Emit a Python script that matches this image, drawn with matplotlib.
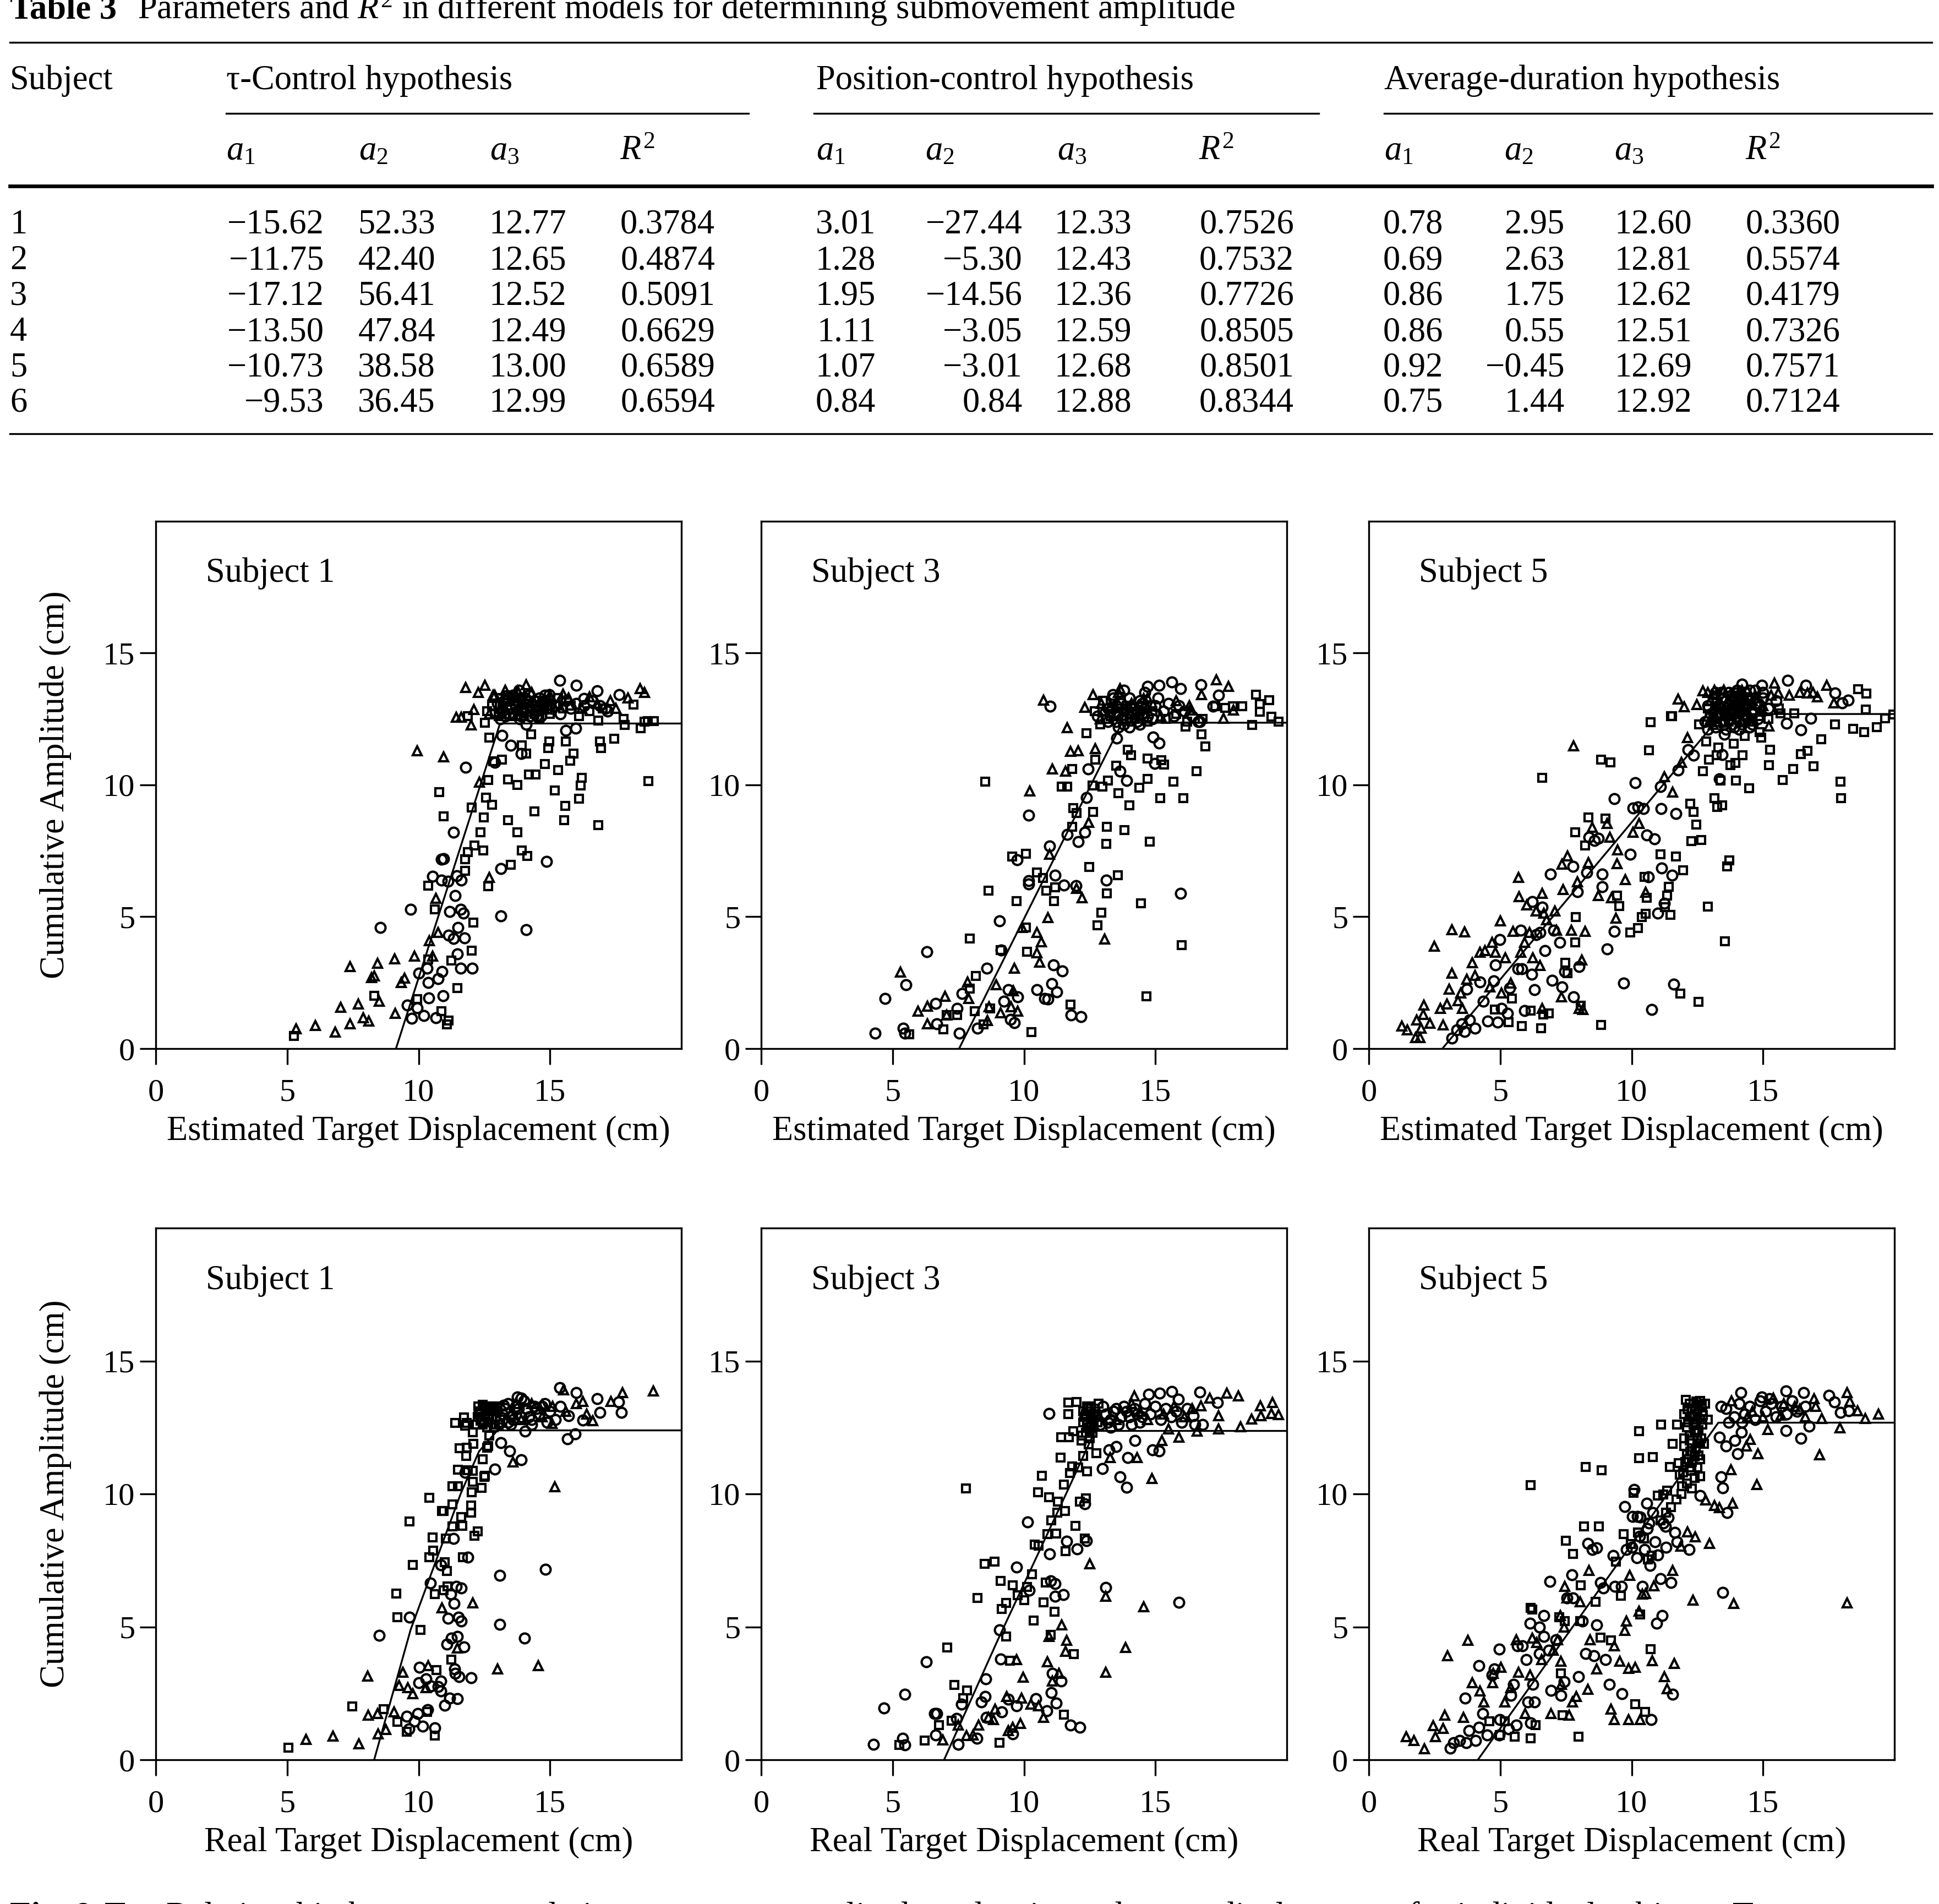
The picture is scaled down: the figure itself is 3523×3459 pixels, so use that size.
import matplotlib
matplotlib.use("Agg")
import matplotlib.pyplot as plt
from matplotlib.lines import Line2D

plt.rcParams['font.family'] = ['Liberation Serif', 'DejaVu Serif']
plt.rcParams['mathtext.fontset'] = 'custom'
plt.rcParams['mathtext.rm'] = 'Liberation Serif'
plt.rcParams['mathtext.it'] = 'Liberation Serif:italic'

# ---- Table 3 values ----
subjects = ['1', '2', '3', '4', '5', '6']
tau_a1 = [-15.62, -11.75, -17.12, -13.50, -10.73, -9.53]
tau_a2 = [52.33, 42.40, 56.41, 47.84, 38.58, 36.45]
tau_a3 = [12.77, 12.65, 12.52, 12.49, 13.00, 12.99]
tau_r2 = [0.3784, 0.4874, 0.5091, 0.6629, 0.6589, 0.6594]
pos_a1 = [3.01, 1.28, 1.95, 1.11, 1.07, 0.84]
pos_a2 = [-27.44, -5.30, -14.56, -3.05, -3.01, 0.84]
pos_a3 = [12.33, 12.43, 12.36, 12.59, 12.68, 12.88]
pos_r2 = [0.7526, 0.7532, 0.7726, 0.8505, 0.8501, 0.8344]
avg_a1 = [0.78, 0.69, 0.86, 0.86, 0.92, 0.75]
avg_a2 = [2.95, 2.63, 1.75, 0.55, -0.45, 1.44]
avg_a3 = [12.60, 12.81, 12.62, 12.51, 12.69, 12.92]
avg_r2 = [0.3360, 0.5574, 0.4179, 0.7326, 0.7571, 0.7124]
groups = ['τ-Control hypothesis', 'Position-control hypothesis', 'Average-duration hypothesis']
col_heads = ['$a_1$', '$a_2$', '$a_3$', '$R^2$'] * 3

# ---- Panel data: (x, y) ----
# Subject 1, estimated displacement
e1_tri = [(5.34, 0.75), (6.07, 0.88), (6.82, 0.63), (7.03, 1.57), (7.40, 3.12), (7.40, 0.93), (7.70, 1.70),
          (7.9, 1.17), (8.10, 1.05), (8.2, 2.7), (8.31, 2.75), (8.45, 3.24), (8.5, 1.8), (9.08, 3.4), (9.1, 1.34),
          (9.35, 2.5), (9.46, 2.67), (9.84, 3.5), (9.95, 11.3), (10.54, 3.5), (10.4, 4.1), (10.65, 5.7),
          (10.75, 4.4), (10.96, 11.07), (12.32, 10.1), (12.7, 6.5), (11.43, 12.57), (11.62, 12.57), (11.8, 13.7),
          (12.1, 12.85), (12.27, 13.5), (12.53, 13.77), (12.84, 13.4), (14.1, 13.8), (13.75, 13.57), (15.5, 13.44),
          (16.5, 13.35), (17.3, 13.2), (17.97, 13.3), (18.43, 13.65), (18.6, 13.5), (12.0, 12.27), (13.2, 13.1),
          (12.9, 13.4), (13.1, 12.9), (13.3, 13.6), (13.5, 13.2), (13.8, 13.5), (14.0, 12.8), (14.3, 13.5),
          (14.6, 13.0), (15.0, 13.4), (15.3, 13.1), (15.7, 13.3), (16.2, 12.9), (16.8, 13.1), (17.5, 12.9),
          (12.7, 12.7), (13.6, 12.7)]
e1_circ = [(8.55, 4.6), (9.69, 5.29), (9.58, 1.65), (9.74, 1.15), (9.95, 1.55), (10.0, 2.87), (10.19, 1.25),
           (10.33, 3.04), (10.37, 2.5), (10.38, 1.92), (10.54, 6.54), (10.65, 1.17), (10.75, 2.65), (10.86, 7.18),
           (10.96, 7.21), (10.86, 6.38), (10.9, 2.92), (10.93, 2.0), (11.13, 6.34), (11.15, 4.3), (11.19, 5.2),
           (11.34, 8.2), (11.34, 4.17), (11.4, 5.8), (11.45, 6.56), (11.48, 3.6), (11.5, 4.6), (11.6, 5.28),
           (11.62, 6.38), (11.7, 5.14), (11.6, 3.05), (11.75, 4.2), (11.8, 10.67), (12.04, 3.04), (12.9, 10.85),
           (13.14, 5.04), (13.14, 6.83), (13.18, 11.87), (13.5, 11.5), (13.9, 11.2), (14.1, 4.5), (14.87, 7.1),
           (14.1, 12.3), (15.37, 13.97), (16.0, 13.77), (15.98, 12.14), (16.8, 13.57), (15.6, 12.07),
           (14.97, 13.42), (13.83, 13.6), (17.64, 13.42), (13.37, 13.19), (14.6, 13.0), (16.3, 13.27), (17.1, 12.9),
           (13.0, 13.1), (13.2, 12.8), (13.4, 13.3), (13.5, 12.9), (13.6, 13.4), (13.7, 13.0), (13.8, 12.7),
           (13.9, 13.3), (14.0, 13.1), (14.1, 12.9), (14.2, 13.4), (14.3, 13.0), (14.4, 13.2), (14.5, 12.8),
           (14.6, 13.3), (14.7, 13.1), (14.8, 13.4), (14.9, 12.9), (15.0, 13.2), (15.2, 13.0), (15.4, 12.7),
           (15.6, 13.2), (15.8, 12.9), (16.0, 13.1), (16.3, 13.0), (16.6, 13.2), (16.9, 13.0), (17.2, 12.8),
           (13.3, 12.6), (13.9, 12.6), (14.5, 12.6), (13.1, 12.5), (13.25, 13.2), (13.45, 12.7), (13.65, 13.1),
           (13.85, 12.5), (14.05, 13.3), (14.25, 12.6), (14.45, 13.0), (14.65, 12.6), (14.85, 13.2), (15.05, 12.9),
           (13.55, 13.3), (14.15, 13.2), (14.75, 12.9), (13.95, 12.9)]
e1_sq = [(5.25, 0.47), (8.31, 2.0), (9.95, 1.87), (10.86, 1.42), (11.08, 0.92), (11.15, 1.07), (10.37, 3.39),
         (10.37, 6.18), (10.61, 5.29), (10.79, 9.72), (10.96, 8.81), (11.24, 3.34), (11.48, 2.3), (11.76, 7.18),
         (11.87, 7.46), (11.76, 6.74), (12.02, 9.15), (12.09, 4.79), (12.02, 3.72), (12.13, 7.71), (12.36, 8.21),
         (12.48, 8.76), (12.46, 7.51), (12.57, 9.52), (12.64, 10.18), (12.79, 9.25), (12.84, 10.9), (12.64, 6.16),
         (12.7, 11.8), (13.18, 10.97), (13.4, 10.2), (13.4, 8.66), (13.51, 6.98), (13.75, 10.0), (13.75, 8.2),
         (13.93, 7.51), (14.14, 7.31), (14.19, 10.4), (14.45, 10.4), (14.4, 9.0), (13.93, 11.5), (14.1, 11.2),
         (14.28, 11.93), (14.8, 10.8), (14.94, 11.4), (14.97, 11.65), (15.18, 9.8), (15.3, 10.57), (15.53, 8.66),
         (15.58, 9.2), (15.6, 11.64), (15.76, 10.92), (15.9, 11.2), (16.1, 9.48), (16.16, 9.97), (16.2, 10.27),
         (16.84, 8.48), (16.9, 11.64), (16.95, 11.4), (17.45, 11.75), (17.85, 12.27), (17.8, 12.5),
         (18.17, 13.05), (18.46, 12.15), (18.6, 12.4), (18.74, 10.15), (18.73, 12.42), (18.95, 12.42),
         (11.87, 12.62), (12.53, 12.35), (13.05, 12.6), (15.8, 13.0), (16.84, 12.44), (12.8, 13.0), (13.1, 13.3),
         (13.3, 12.7), (13.5, 13.0), (13.7, 13.3), (14.0, 12.6), (14.2, 13.1), (14.4, 12.7), (14.7, 13.2),
         (15.0, 12.7), (15.3, 13.3), (15.5, 12.9), (16.1, 12.6), (16.5, 12.8), (17.0, 12.9), (12.6, 12.8),
         (12.9, 12.7), (13.2, 13.0), (13.6, 12.6), (13.9, 13.1), (14.3, 12.9), (14.6, 12.5), (14.9, 13.0),
         (13.4, 13.4)]
e1_fit_x = [9.14, 13.1, 20.0]
e1_fit_y = [0.0, 12.33, 12.33]

# Subject 3, estimated displacement
e3_circ = [(4.34, 0.59), (4.71, 1.91), (5.5, 2.43), (5.41, 0.77), (5.47, 0.59), (6.3, 3.67), (6.63, 1.72),
           (6.68, 0.94), (7.46, 1.53), (7.53, 0.59), (7.65, 2.09), (8.22, 0.77), (8.59, 3.05), (9.07, 4.85),
           (9.13, 3.74), (9.24, 1.8), (9.4, 2.24), (9.49, 1.1), (9.63, 0.99), (9.76, 1.97), (9.74, 7.17),
           (10.18, 8.85), (10.18, 6.36), (10.18, 6.24), (10.49, 2.24), (10.79, 1.9), (10.91, 1.87), (10.97, 7.69),
           (11.0, 12.99), (11.06, 2.46), (11.13, 3.18), (11.18, 6.58), (11.25, 2.14), (11.46, 2.95), (11.51, 6.19),
           (11.65, 8.13), (11.79, 1.27), (11.97, 6.17), (12.06, 7.84), (12.16, 1.21), (12.31, 8.2), (12.38, 9.53),
           (12.43, 10.6), (13.13, 6.39), (13.53, 11.77), (13.65, 10.52), (13.9, 10.16), (14.91, 11.81),
           (15.15, 11.59), (14.97, 10.82), (15.96, 5.88), (15.62, 13.9), (15.15, 13.77), (14.71, 13.73),
           (16.74, 13.8), (17.2, 12.99), (17.4, 13.4), (15.96, 13.65), (16.62, 12.4), (13.38, 13.43),
           (13.2, 12.9), (13.4, 13.3), (13.6, 12.7), (13.7, 13.1), (13.9, 12.5), (14.0, 13.3), (14.2, 12.9),
           (14.3, 12.4), (14.4, 13.2), (14.5, 12.7), (14.6, 13.5), (14.8, 13.0), (14.9, 12.5), (15.1, 13.3),
           (15.3, 12.8), (15.5, 13.1), (15.7, 12.6), (15.9, 13.0), (16.1, 12.8), (16.4, 12.6), (16.7, 12.4),
           (12.8, 12.6), (13.5, 12.4), (14.1, 12.7), (13.8, 13.6), (13.3, 12.8), (13.5, 13.0), (13.7, 12.5),
           (13.9, 12.9), (14.1, 13.0), (14.3, 12.8), (14.5, 13.1), (14.7, 12.6), (13.6, 12.2), (14.0, 12.2),
           (14.4, 12.3), (13.2, 12.4), (13.8, 12.3), (14.6, 12.9), (15.0, 13.0)]
e3_tri = [(5.29, 2.9), (5.96, 1.43), (6.32, 1.6), (6.32, 0.94), (6.99, 1.99), (7.06, 1.28), (7.85, 2.53),
          (7.9, 1.9), (8.6, 1.06), (8.67, 1.58), (8.94, 2.42), (9.12, 1.35), (9.51, 1.58), (9.6, 2.19),
          (9.75, 1.43), (9.63, 3.05), (9.93, 4.6), (10.22, 9.78), (10.49, 4.4), (10.49, 3.64), (10.6, 3.27),
          (10.66, 4.05), (10.74, 13.21), (10.91, 4.96), (10.97, 7.36), (11.07, 10.6), (11.59, 10.52),
          (11.65, 12.18), (11.76, 11.27), (11.99, 6.07), (12.06, 11.3), (12.21, 5.73), (12.47, 8.57),
          (12.31, 12.95), (12.62, 13.43), (12.72, 11.37), (13.06, 4.15), (13.65, 13.65), (14.56, 13.28),
          (16.76, 13.43), (17.32, 13.99), (17.79, 13.73), (17.6, 12.52), (17.96, 12.84), (16.32, 12.84),
          (12.94, 13.1), (12.9, 12.5), (13.3, 13.0), (13.6, 13.5), (14.1, 13.1), (14.7, 13.3), (15.2, 12.6),
          (15.8, 13.2), (16.3, 13.0), (13.0, 12.8), (14.4, 12.6)]
e3_sq = [(5.63, 0.54), (6.94, 0.74), (7.06, 1.28), (7.46, 1.28), (7.94, 4.18), (7.94, 2.27), (8.16, 2.75),
         (8.13, 1.43), (8.46, 0.91), (8.53, 10.12), (8.65, 5.99), (8.71, 1.53), (9.12, 3.74), (9.56, 7.29),
         (9.71, 5.6), (10.07, 7.39), (10.07, 4.6), (10.12, 3.67), (10.29, 0.62), (10.49, 6.69), (10.72, 6.48),
         (10.84, 5.99), (11.15, 5.6), (11.18, 6.11), (11.44, 9.94), (11.65, 9.94), (11.76, 1.68), (11.84, 10.6),
         (11.88, 9.13), (11.84, 8.42), (11.99, 8.93), (12.38, 11.96), (12.6, 9.97), (12.62, 8.98),
         (12.72, 10.96), (12.99, 9.94), (13.16, 8.42), (13.13, 7.76), (13.16, 5.88), (12.94, 5.15),
         (12.79, 4.67), (12.49, 6.88), (13.19, 10.16), (13.5, 10.74), (13.6, 9.68), (13.82, 8.28), (13.57, 6.58),
         (13.94, 11.34), (14.0, 9.23), (14.07, 11.12), (14.38, 9.9), (14.46, 5.52), (14.71, 10.22), (14.71, 11.0),
         (14.78, 7.84), (14.66, 1.99), (15.18, 9.5), (15.22, 10.93), (15.32, 10.78), (15.69, 10.12),
         (15.99, 3.93), (16.07, 9.5), (16.15, 12.22), (16.57, 10.52), (16.76, 11.93), (16.91, 11.47),
         (17.94, 12.99), (18.31, 12.99), (18.68, 12.28), (18.82, 13.43), (18.97, 13.06), (18.97, 12.77),
         (19.34, 13.21), (19.41, 12.58), (19.68, 12.4), (17.65, 12.92), (17.28, 12.99), (12.7, 12.8),
         (13.0, 13.2), (13.3, 12.6), (13.6, 12.9), (13.9, 13.0), (14.2, 12.5), (14.5, 13.0), (14.9, 12.8),
         (15.4, 12.5), (15.8, 12.7), (16.2, 12.4), (16.8, 12.5), (12.9, 12.3), (13.1, 12.5), (13.5, 12.6),
         (13.8, 12.8), (14.1, 12.4), (14.4, 12.8), (14.7, 12.4), (13.4, 13.1), (14.0, 12.7)]
e3_fit_x = [7.53, 13.73, 20.0]
e3_fit_y = [0.0, 12.36, 12.36]

# Subject 5, estimated displacement
e5_tri = [(1.25, 0.86), (1.46, 0.71), (1.77, 0.41), (1.95, 0.41), (1.83, 1.08), (2.07, 1.3), (2.1, 1.64),
          (1.99, 0.78), (2.32, 0.96), (2.5, 3.88), (2.73, 1.52), (2.83, 0.89), (2.98, 1.7), (3.05, 2.26),
          (3.16, 2.85), (3.17, 4.51), (3.39, 1.82), (3.5, 2.11), (3.57, 1.52), (3.64, 4.43), (3.72, 2.63),
          (3.94, 3.26), (4.04, 2.78), (4.23, 3.66), (4.42, 3.71), (4.6, 2.33), (4.7, 4.03), (4.82, 3.66),
          (5.0, 4.84), (5.04, 2.11), (5.19, 3.44), (5.41, 2.48), (5.49, 4.45), (5.69, 6.5), (5.71, 5.76),
          (5.78, 3.66), (5.93, 4.03), (6.0, 5.44), (6.11, 4.4), (6.25, 3.44), (6.37, 5.21), (6.52, 3.15),
          (6.6, 5.88), (6.6, 1.52), (6.67, 5.14), (6.77, 4.89), (7.08, 5.21), (7.14, 4.48), (7.32, 1.96),
          (7.36, 6.99), (7.4, 6.03), (7.55, 7.31), (7.7, 4.48), (7.79, 11.49), (7.94, 6.32), (8.01, 1.52),
          (8.1, 3.37), (8.14, 1.48), (8.22, 4.45), (8.36, 7.06), (8.51, 8.39), (8.73, 5.8), (9.06, 8.54),
          (9.17, 8.02), (9.23, 5.73), (9.4, 4.95), (9.44, 7.02), (9.47, 7.53), (9.76, 6.4), (10.06, 8.2),
          (10.28, 8.54), (10.53, 5.92), (11.24, 10.31), (11.56, 9.72), (11.76, 13.26), (11.9, 10.86),
          (12.01, 12.97), (12.12, 11.79), (12.48, 13.04), (12.71, 13.56), (13.16, 13.6), (14.19, 12.82),
          (15.44, 13.86), (15.22, 12.23), (17.06, 13.34), (17.43, 13.78), (17.7, 13.12), (15.59, 13.49),
          (14.31, 13.37), (16.7, 13.49), (13.0, 13.2), (13.3, 12.7), (13.5, 13.6), (13.8, 12.8), (14.0, 13.3),
          (14.2, 13.6), (14.4, 12.8), (14.7, 13.4), (15.0, 13.0), (15.3, 13.4), (12.9, 12.6), (13.1, 12.3),
          (13.6, 13.0), (14.1, 12.9), (14.6, 13.2), (16.0, 13.4), (16.4, 13.5), (16.9, 13.5), (12.9, 13.5),
          (13.1, 12.9), (13.3, 12.4), (13.5, 13.6), (13.7, 12.7), (13.9, 13.3), (14.1, 12.9), (14.3, 13.2),
          (14.5, 12.6), (14.7, 13.3), (14.9, 12.8), (13.4, 13.1), (14.0, 12.5), (14.4, 13.6), (13.0, 12.5)]
e5_circ = [(3.16, 0.4), (3.35, 0.71), (3.54, 0.93), (3.64, 0.64), (3.72, 2.26), (3.83, 1.08), (4.04, 0.78),
           (4.23, 2.53), (4.35, 1.79), (4.53, 1.05), (4.75, 2.56), (4.82, 3.18), (4.9, 1.0), (4.99, 4.14),
           (5.04, 1.52), (5.27, 1.34), (5.37, 2.29), (5.68, 3.03), (5.78, 4.48), (5.83, 3.03), (5.93, 1.45),
           (6.2, 2.81), (6.22, 5.58), (6.3, 2.23), (6.37, 4.33), (6.52, 4.4), (6.6, 5.36), (6.71, 3.71),
           (6.92, 6.62), (6.97, 2.58), (7.04, 4.48), (7.26, 4.03), (7.36, 2.33), (7.45, 2.92), (7.77, 6.91),
           (7.8, 1.96), (7.94, 5.95), (8.01, 3.12), (8.29, 6.69), (8.38, 8.02), (8.58, 7.9), (8.73, 7.98),
           (8.88, 6.13), (8.88, 6.62), (9.06, 3.77), (9.33, 4.45), (9.35, 9.47), (9.69, 2.48), (9.94, 7.36),
           (10.13, 10.09), (10.06, 9.13), (10.25, 9.17), (10.44, 9.1), (10.58, 8.09), (10.63, 6.51),
           (10.77, 1.49), (10.87, 7.95), (11.0, 5.14), (11.09, 9.94), (11.12, 9.1), (11.14, 6.84), (11.24, 5.51),
           (11.53, 6.57), (11.61, 2.44), (11.68, 8.91), (11.78, 10.57), (12.15, 11.34), (12.35, 11.12),
           (14.19, 13.83), (13.97, 13.49), (13.82, 12.3), (14.49, 13.19), (14.96, 13.78), (15.93, 13.96),
           (15.89, 12.33), (16.43, 12.08), (16.62, 13.78), (16.81, 12.53), (17.73, 13.49), (18.02, 13.12),
           (18.25, 13.22), (13.53, 11.93), (13.35, 10.24), (13.45, 11.15), (13.2, 12.9), (13.4, 13.3),
           (13.6, 12.7), (13.7, 13.5), (13.9, 13.0), (14.0, 12.6), (14.1, 13.4), (14.3, 12.9), (14.4, 13.3),
           (14.6, 12.7), (14.8, 13.1), (15.0, 13.5), (15.2, 12.9), (15.5, 13.2), (13.5, 12.4), (14.2, 12.3),
           (13.8, 13.2), (14.5, 13.6), (12.8, 12.4), (12.9, 13.0), (13.0, 12.7), (13.1, 13.3), (13.2, 12.2),
           (13.3, 12.6), (13.3, 13.0), (13.4, 13.5), (13.5, 12.3), (13.5, 12.8), (13.6, 13.2), (13.7, 12.5),
           (13.7, 13.0), (13.8, 13.4), (13.9, 12.2), (13.9, 12.7), (14.0, 13.1), (14.0, 13.6), (14.1, 12.4),
           (14.2, 12.8), (14.2, 13.2), (14.3, 13.5), (14.4, 12.5), (14.4, 13.0), (14.5, 12.2), (14.5, 13.3),
           (14.6, 12.8), (14.7, 13.1), (14.7, 13.6), (14.8, 12.5), (14.9, 13.0), (15.0, 13.3), (13.2, 13.5),
           (13.6, 12.1), (14.1, 12.1), (14.6, 12.3), (12.9, 12.1), (13.4, 12.9), (13.8, 12.9), (14.3, 12.7)]
e5_sq = [(6.59, 10.28), (8.83, 10.97), (9.2, 10.86), (10.72, 12.38), (10.65, 11.31), (11.5, 12.6), (7.85, 8.2),
         (8.36, 8.76), (9.01, 8.73), (8.22, 7.7), (7.88, 4.99), (7.48, 3.25), (7.55, 2.85), (8.07, 1.62),
         (8.83, 0.89), (6.55, 0.78), (6.64, 1.3), (6.85, 1.33), (5.83, 0.86), (5.31, 1.0), (5.44, 1.89),
         (4.79, 1.48), (6.15, 1.45), (7.85, 4.03), (9.53, 5.41), (9.44, 5.8), (9.94, 4.4), (10.25, 4.58),
         (10.38, 4.99), (10.58, 5.73), (10.5, 6.51), (10.53, 5.11), (11.09, 7.36), (11.27, 5.36), (11.36, 5.8),
         (11.47, 5.07), (11.42, 6.13), (11.68, 7.28), (11.95, 6.77), (11.86, 2.08), (12.27, 7.87), (12.54, 1.77),
         (12.64, 7.92), (12.35, 8.98), (12.47, 8.49), (12.24, 9.28), (12.91, 5.39), (13.55, 4.08), (13.63, 6.91),
         (13.72, 7.13), (13.26, 9.17), (13.45, 9.23), (13.97, 10.16), (14.48, 9.87), (13.94, 10.83),
         (14.22, 11.12), (14.31, 11.86), (15.22, 10.75), (15.27, 11.34), (14.93, 11.79), (14.86, 12.01),
         (15.74, 10.19), (16.15, 10.6), (16.45, 11.17), (16.7, 11.3), (16.92, 10.72), (17.21, 11.74),
         (17.73, 12.3), (17.94, 10.12), (17.96, 9.5), (18.42, 12.13), (18.84, 12.01), (18.91, 12.87),
         (18.61, 13.63), (18.94, 13.46), (19.32, 12.2), (19.65, 12.53), (19.95, 12.67), (15.66, 12.72),
         (16.18, 12.72), (11.53, 12.6), (12.57, 12.3), (12.83, 11.64), (12.94, 10.97), (13.23, 11.12),
         (13.3, 11.42), (13.75, 10.75), (12.71, 10.53), (13.38, 10.16), (13.16, 9.5), (13.88, 11.57),
         (12.9, 12.9), (13.1, 12.5), (13.4, 12.9), (13.7, 12.4), (14.0, 12.9), (14.3, 12.6), (14.6, 12.4),
         (14.9, 12.6), (15.2, 12.5), (15.6, 12.9), (13.2, 13.4), (13.9, 13.5)]
e5_fit_x = [2.8, 13.45, 20.0]
e5_fit_y = [0.0, 12.69, 12.69]

# Subject 1, real displacement
r1_sq = [(5.04, 0.46), (7.47, 2.0), (8.68, 1.91), (9.19, 1.42), (9.56, 1.06), (9.16, 6.26), (9.19, 5.36),
         (9.66, 8.96), (9.79, 7.33), (10.07, 4.88), (10.4, 9.86), (10.41, 7.61), (10.53, 8.36), (10.56, 7.86),
         (10.62, 6.23), (10.68, 3.38), (10.32, 1.81), (10.62, 0.91), (10.88, 9.35), (10.96, 9.35), (11.03, 8.33),
         (10.99, 7.43), (11.07, 7.1), (11.1, 6.52), (10.96, 6.38), (11.25, 3.77), (11.28, 9.61), (11.29, 10.29),
         (11.29, 8.77), (11.5, 10.29), (11.5, 10.91), (11.57, 11.71), (11.62, 9.13), (11.66, 8.8), (11.69, 7.61),
         (11.76, 12.57), (11.72, 12.87), (11.99, 9.57), (11.99, 9.3), (12.03, 10.07), (12.06, 10.46),
         (12.09, 11.88), (12.13, 8.43), (12.25, 8.59), (12.4, 10.22), (12.5, 10.65), (12.43, 11.3),
         (12.53, 10.68), (12.6, 11.74), (12.65, 11.81), (12.69, 12.2), (12.28, 13.29), (12.35, 12.75),
         (11.84, 11.74), (11.81, 11.42), (11.4, 12.68), (11.84, 12.68), (12.06, 12.32), (11.87, 10.9),
         (12.06, 10.87), (12.3, 13.0), (12.5, 12.7), (12.6, 13.2), (12.7, 12.9), (12.8, 13.3), (12.9, 12.6),
         (13.0, 13.1), (13.1, 12.8), (12.4, 12.9), (12.6, 12.5), (12.8, 12.9), (13.0, 13.3), (12.2, 12.6),
         (12.5, 13.3), (12.35, 13.1), (12.45, 12.6), (12.55, 13.0), (12.65, 12.7), (12.75, 13.1), (12.85, 12.5),
         (12.95, 12.9), (12.45, 13.35), (12.65, 13.3), (12.85, 13.2), (13.05, 12.6), (12.25, 12.9)]
r1_circ = [(8.5, 4.68), (9.66, 5.36), (9.56, 1.64), (9.63, 1.16), (9.85, 1.45), (9.97, 1.74), (10.0, 2.9),
           (10.03, 3.48), (10.15, 1.26), (10.29, 3.04), (10.34, 1.88), (10.44, 6.64), (10.47, 2.78), (10.62, 1.2),
           (10.74, 2.75), (10.85, 2.97), (10.85, 2.58), (10.85, 7.32), (10.99, 2.06), (11.13, 5.33), (11.18, 2.32),
           (11.07, 4.35), (11.22, 6.23), (11.25, 4.57), (11.32, 8.33), (11.35, 5.87), (11.37, 3.41), (11.4, 3.26),
           (11.44, 6.52), (11.47, 4.64), (11.47, 2.29), (11.51, 5.36), (11.54, 3.12), (11.62, 5.22),
           (11.62, 6.45), (11.72, 4.25), (11.76, 10.8), (11.88, 7.61), (11.99, 3.09), (12.91, 10.94),
           (13.09, 6.93), (13.09, 5.1), (13.13, 11.93), (13.46, 11.62), (13.91, 11.28), (14.04, 4.57),
           (14.82, 7.17), (15.66, 12.07), (15.96, 12.25), (15.37, 13.99), (16.0, 13.81), (15.71, 12.94),
           (16.25, 12.78), (16.79, 13.59), (16.91, 13.07), (17.62, 13.45), (17.72, 13.07), (13.76, 13.65),
           (14.06, 12.35), (13.24, 13.33), (13.2, 13.0), (13.4, 13.4), (13.6, 12.8), (13.8, 13.2), (14.0, 13.5),
           (14.2, 12.9), (14.4, 13.3), (14.6, 13.0), (14.8, 13.4), (15.0, 13.1), (15.2, 12.8), (13.5, 12.6),
           (14.3, 12.6), (13.9, 13.6), (14.9, 12.7), (15.4, 13.3), (13.3, 13.2), (13.5, 12.9), (13.7, 13.3),
           (13.9, 12.9), (14.1, 13.2), (14.3, 12.8), (14.5, 13.2), (14.7, 13.3), (13.4, 12.7)]
r1_tri = [(5.71, 0.77), (6.74, 0.9), (7.72, 0.61), (8.06, 3.14), (8.09, 1.67), (8.43, 1.74), (8.46, 0.97),
          (8.75, 1.13), (9.07, 1.81), (9.26, 2.8), (9.41, 3.29), (9.6, 2.71), (9.79, 2.49), (10.29, 2.71),
          (10.37, 3.55), (10.88, 5.72), (11.47, 4.2), (12.06, 5.9), (13.0, 3.41), (13.6, 11.2), (14.56, 3.55),
          (15.19, 10.26), (15.51, 13.91), (16.62, 12.75), (17.31, 13.48), (17.76, 13.8), (18.94, 13.88),
          (16.25, 13.48), (15.07, 12.64), (14.71, 13.36), (13.1, 12.7), (13.5, 13.0), (13.9, 12.8), (14.3, 13.4),
          (14.7, 12.9), (15.1, 13.3), (15.6, 13.1), (16.0, 13.4), (16.4, 13.0), (13.7, 13.4)]
r1_fit_x = [8.31, 9.7, 11.6, 12.3, 13.0, 20.0]
r1_fit_y = [0.0, 4.9, 10.0, 11.6, 12.39, 12.39]

# Subject 3, real displacement
r3_sq = [(5.26, 0.55), (6.22, 0.72), (6.76, 1.3), (7.07, 4.23), (7.25, 1.48), (7.35, 2.82), (7.69, 2.32),
         (7.84, 2.6), (7.79, 10.2), (8.24, 6.08), (8.51, 7.38), (8.87, 7.45), (9.06, 0.65), (9.1, 6.73),
         (9.16, 5.67), (9.31, 5.9), (9.31, 4.63), (9.46, 3.72), (9.57, 6.56), (9.75, 6.19), (10.0, 6.01),
         (10.12, 6.51), (10.31, 6.98), (10.37, 5.24), (10.41, 8.1), (10.53, 10.06), (10.56, 8.06),
         (10.68, 10.68), (10.75, 5.93), (10.82, 6.66), (10.88, 8.49), (10.96, 9.87), (11.01, 4.7), (11.03, 9.0),
         (11.16, 5.57), (11.22, 8.51), (11.26, 9.29), (11.29, 9.7), (11.4, 11.36), (11.41, 12.13), (11.51, 10.35),
         (11.51, 1.69), (11.56, 9.36), (11.59, 7.84), (11.69, 13.43), (11.69, 13.0), (11.71, 12.13),
         (11.74, 10.78), (11.84, 11.03), (11.88, 12.37), (11.9, 3.98), (11.96, 8.8), (11.99, 13.46),
         (12.06, 11.0), (12.13, 9.7), (12.18, 12.01), (12.25, 11.43), (12.32, 8.32), (12.35, 9.84),
         (12.4, 10.85), (12.47, 11.87), (12.76, 11.53), (12.84, 13.39), (12.4, 12.69), (12.3, 12.9),
         (12.4, 12.6), (12.5, 13.1), (12.6, 12.8), (12.7, 13.2), (12.5, 12.4), (12.8, 12.7), (12.4, 13.3),
         (12.6, 12.3), (12.2, 12.2), (12.25, 12.7), (12.35, 13.0), (12.45, 12.5), (12.55, 12.9), (12.65, 12.6),
         (12.35, 12.3), (12.55, 13.3), (12.75, 12.9), (12.45, 13.2), (12.25, 13.1), (12.65, 13.0), (12.5, 12.1)]
r3_circ = [(4.28, 0.58), (4.68, 1.95), (5.38, 0.8), (5.46, 0.55), (5.47, 2.46), (6.29, 3.69), (6.59, 1.74),
           (6.69, 1.74), (6.63, 0.94), (7.43, 1.55), (7.5, 0.58), (7.62, 2.1), (8.21, 0.8), (8.38, 2.17),
           (8.53, 2.39), (8.54, 3.04), (8.57, 1.59), (9.06, 4.89), (9.12, 3.79), (9.16, 1.81), (9.41, 2.27),
           (9.57, 0.97), (9.72, 2.03), (9.71, 7.24), (10.13, 8.94), (10.19, 6.37), (10.44, 2.29), (10.87, 1.85),
           (10.97, 7.74), (11.01, 6.73), (11.03, 2.53), (11.07, 3.26), (11.18, 6.63), (11.22, 2.14),
           (11.19, 6.15), (11.41, 2.97), (11.49, 6.22), (11.62, 8.21), (11.78, 1.3), (12.03, 7.92), (12.13, 1.23),
           (12.32, 9.62), (12.37, 8.25), (10.96, 13.02), (12.99, 10.96), (13.1, 6.47), (13.24, 11.65),
           (13.5, 11.79), (13.65, 10.64), (13.94, 11.36), (13.9, 10.25), (14.21, 12.01), (14.9, 11.65),
           (15.15, 11.62), (15.9, 5.93), (15.63, 13.85), (16.7, 13.82), (17.37, 13.43), (15.88, 13.57),
           (16.44, 12.95), (15.16, 13.79), (14.75, 13.75), (12.7, 12.9), (13.0, 13.3), (13.2, 12.7), (13.4, 13.1),
           (13.6, 12.6), (13.8, 13.3), (14.0, 12.9), (14.2, 13.2), (14.4, 12.7), (14.6, 13.4), (14.8, 13.0),
           (15.0, 13.3), (15.2, 12.8), (15.4, 13.2), (15.6, 12.9), (15.8, 13.1), (16.0, 12.7), (16.2, 13.2),
           (16.5, 12.6), (16.8, 12.6), (12.5, 12.5), (13.3, 12.5), (12.9, 12.6), (13.1, 13.0), (13.3, 12.8),
           (13.5, 13.2), (13.7, 12.9), (13.9, 13.1), (14.1, 12.6), (14.3, 13.0), (14.5, 12.9)]
r3_tri = [(6.91, 0.75), (7.5, 1.3), (7.81, 0.91), (8.06, 0.94), (8.28, 1.3), (8.65, 1.59), (8.84, 1.52),
          (8.9, 1.91), (9.34, 2.39), (9.41, 1.09), (9.57, 1.23), (9.72, 3.76), (9.87, 1.37), (9.9, 2.32),
          (9.97, 3.11), (10.26, 2.1), (10.56, 2.03), (10.74, 1.59), (10.88, 3.69), (10.96, 4.63), (11.07, 2.97),
          (11.32, 3.26), (11.44, 5.07), (11.59, 4.08), (11.63, 4.49), (12.51, 7.38), (13.1, 6.15), (13.1, 3.3),
          (13.28, 11.36), (13.87, 4.23), (14.31, 11.36), (14.56, 5.76), (14.87, 10.59), (15.24, 12.01),
          (15.9, 12.13), (14.19, 13.68), (15.49, 12.45), (16.74, 13.31), (17.07, 13.6), (17.4, 12.45),
          (17.72, 13.79), (18.16, 13.68), (18.24, 12.52), (18.65, 12.81), (18.99, 13.31), (19.01, 12.95),
          (19.46, 13.43), (19.41, 13.02), (19.68, 12.98), (17.4, 12.95), (16.59, 12.37), (13.5, 12.8),
          (14.1, 13.4), (14.7, 12.8), (15.3, 13.0), (15.7, 13.3), (16.1, 12.9), (16.4, 13.2), (14.4, 13.1)]
r3_fit_x = [6.96, 9.0, 11.6, 12.7, 20.0]
r3_fit_y = [0.0, 4.5, 10.0, 12.37, 12.37]

# Subject 5, real displacement
r5_tri = [(1.43, 0.87), (1.72, 0.72), (2.12, 0.41), (2.46, 1.28), (2.53, 0.87), (2.82, 1.19), (2.9, 1.67),
          (3.0, 3.91), (3.6, 1.59), (3.78, 4.49), (3.93, 2.9), (4.22, 2.58), (4.37, 2.17), (4.71, 2.9),
          (4.74, 3.26), (5.03, 3.48), (5.18, 2.17), (5.4, 2.72), (5.62, 4.52), (5.69, 3.3), (5.94, 1.74),
          (6.13, 3.19), (6.21, 4.57), (6.38, 4.42), (6.57, 3.77), (6.94, 1.74), (7.01, 4.13), (7.19, 4.52),
          (7.28, 5.43), (7.31, 3.7), (7.34, 2.83), (7.43, 5.0), (7.46, 6.52), (7.53, 6.09), (7.62, 1.67),
          (7.75, 2.17), (7.9, 2.39), (8.04, 5.94), (8.34, 2.64), (8.37, 7.13), (8.41, 4.52), (8.68, 3.41),
          (9.22, 1.91), (9.34, 1.52), (9.34, 4.28), (9.54, 3.7), (9.74, 4.86), (9.81, 5.22), (9.88, 3.43),
          (9.93, 6.93), (9.88, 1.52), (10.13, 3.48), (10.32, 1.52), (10.29, 5.58), (10.4, 6.23), (10.54, 6.26),
          (10.79, 3.72), (10.84, 6.55), (11.24, 3.12), (11.35, 2.68), (11.57, 7.13), (11.62, 3.62),
          (11.87, 8.04), (12.13, 8.58), (12.34, 6.01), (12.41, 8.38), (12.82, 9.78), (12.97, 8.14),
          (13.16, 9.57), (13.34, 9.49), (13.78, 10.91), (13.85, 9.64), (13.88, 5.87), (14.51, 12.06),
          (14.37, 11.81), (14.76, 10.36), (14.81, 11.52), (15.18, 12.43), (17.16, 11.48), (17.93, 12.49),
          (18.19, 5.91), (18.19, 13.81), (18.31, 13.48), (18.6, 13.12), (18.88, 12.83), (19.4, 13.01),
          (15.69, 12.97), (16.94, 13.59), (17.24, 12.83), (16.4, 13.19), (13.8, 13.5), (14.4, 12.9),
          (15.0, 12.9), (15.4, 13.6), (15.8, 13.4), (16.2, 13.3), (16.6, 12.9), (17.0, 13.3), (14.6, 13.1)]
r5_circ = [(3.09, 0.43), (3.22, 0.65), (3.46, 0.72), (3.66, 2.32), (3.71, 0.65), (3.81, 1.09), (4.07, 0.72),
           (4.19, 1.23), (4.19, 3.55), (4.34, 1.74), (4.51, 0.94), (4.69, 3.19), (4.78, 3.41), (4.96, 0.94),
           (4.96, 4.17), (4.99, 1.52), (5.32, 1.16), (5.4, 2.42), (5.51, 2.83), (5.62, 1.3), (5.66, 4.28),
           (5.84, 4.28), (5.99, 3.77), (6.06, 2.17), (6.13, 5.14), (6.16, 1.38), (6.25, 2.83), (6.31, 2.17),
           (6.5, 5.0), (6.5, 3.99), (6.65, 5.43), (6.65, 4.64), (6.84, 4.13), (6.9, 6.7), (6.94, 2.61),
           (7.13, 4.52), (7.31, 2.43), (7.43, 2.93), (7.53, 6.09), (7.72, 6.96), (7.78, 6.09), (7.97, 3.12),
           (8.12, 5.22), (8.26, 3.99), (8.34, 8.14), (8.51, 7.9), (8.68, 7.97), (8.56, 3.91), (8.68, 5.07),
           (8.81, 6.67), (8.93, 6.45), (9.0, 3.77), (9.15, 2.83), (9.29, 7.68), (9.37, 6.52), (9.62, 6.52),
           (9.63, 2.49), (9.74, 9.52), (10.04, 9.16), (10.1, 10.17), (10.22, 9.16), (10.32, 9.13), (10.4, 6.52),
           (10.57, 9.64), (10.65, 8.91), (10.74, 1.52), (10.96, 5.14), (11.1, 6.81), (11.16, 5.43),
           (11.28, 8.77), (11.5, 6.67), (11.57, 2.46), (11.65, 8.55), (11.72, 8.19), (12.19, 7.9), (12.6, 9.93),
           (13.34, 12.13), (13.46, 6.3), (13.63, 9.3), (13.41, 10.65), (13.46, 10.22), (13.6, 11.81),
           (13.93, 12.0), (14.04, 11.52), (14.18, 12.32), (15.87, 12.39), (16.43, 12.1), (16.75, 12.54),
           (16.54, 13.8), (15.88, 13.87), (14.96, 13.65), (14.15, 13.8), (17.5, 13.7), (17.71, 13.45),
           (17.94, 13.07), (18.26, 13.12), (15.25, 13.59), (13.41, 13.3), (13.6, 13.2), (13.9, 12.9),
           (14.1, 13.4), (14.3, 13.0), (14.5, 13.3), (14.7, 12.8), (14.9, 13.5), (15.1, 13.1), (15.3, 13.4),
           (15.5, 12.9), (15.7, 13.3), (15.9, 13.0), (16.1, 13.5), (16.3, 13.1), (16.6, 13.3), (13.7, 12.7),
           (14.2, 12.7), (10.3, 8.4), (10.6, 8.7), (10.9, 8.2), (11.2, 8.9), (10.5, 7.9), (10.8, 9.3), (11.4, 9.1),
           (10.2, 7.6), (10.0, 8.0), (11.0, 7.7), (10.7, 7.3), (9.8, 7.9), (11.3, 8.0)]
r5_sq = [(6.16, 10.33), (8.26, 11.01), (8.85, 10.9), (10.29, 12.36), (10.29, 11.35), (10.81, 11.38),
         (11.13, 12.61), (10.07, 10.04), (8.19, 8.77), (8.75, 8.77), (7.5, 8.23), (7.78, 7.75), (8.07, 6.57),
         (6.16, 5.72), (6.21, 5.65), (7.24, 5.36), (7.46, 5.22), (8.04, 5.22), (8.63, 5.94), (8.82, 4.59),
         (9.22, 4.49), (7.31, 3.26), (7.38, 1.67), (7.97, 0.87), (5.18, 1.45), (5.54, 0.87), (6.16, 0.8),
         (6.35, 1.3), (4.59, 1.45), (4.99, 0.94), (10.13, 2.1), (10.51, 1.81), (10.72, 4.16), (10.32, 5.46),
         (9.59, 6.16), (9.41, 7.46), (9.69, 8.48), (9.96, 8.12), (10.25, 8.55), (10.47, 8.33), (10.62, 7.54),
         (10.76, 7.68), (10.99, 9.93), (11.21, 9.97), (11.35, 10.12), (11.46, 11.01), (11.57, 11.88),
         (11.72, 12.61), (11.84, 10.72), (11.91, 10.29), (11.99, 12.1), (12.06, 13.55), (12.13, 13.19),
         (12.24, 11.59), (12.28, 10.87), (12.38, 12.9), (12.46, 13.48), (12.49, 12.32), (12.54, 11.45),
         (12.6, 10.67), (12.68, 13.33), (12.72, 12.97), (12.75, 11.88), (11.79, 11.16), (12.16, 11.3),
         (12.3, 13.2), (12.5, 12.8), (12.6, 13.5), (12.4, 12.4), (12.7, 13.1), (12.9, 12.8), (12.2, 12.9),
         (12.8, 13.4), (12.0, 11.8), (12.1, 12.5), (12.2, 12.2), (12.3, 11.9), (12.35, 12.6), (12.45, 11.7),
         (12.55, 12.4), (12.65, 12.1), (12.4, 13.0), (12.6, 12.8), (12.1, 11.5), (12.3, 11.2), (12.5, 11.0),
         (12.7, 12.6), (12.0, 13.0), (12.2, 13.4), (12.3, 12.9), (12.4, 12.3), (12.5, 13.0), (12.2, 12.0),
         (12.3, 11.6), (12.4, 11.4), (12.5, 12.0), (12.6, 11.9), (12.2, 11.0), (12.4, 10.6), (12.1, 10.4),
         (12.3, 10.2), (12.6, 11.3), (12.45, 12.7), (12.55, 13.35), (12.15, 12.7), (12.35, 13.4), (11.95, 10.8),
         (12.05, 11.2), (11.9, 10.0), (11.7, 9.8), (11.5, 9.5), (11.3, 9.3), (11.1, 9.0)]
r5_fit_x = [4.15, 13.3, 20.0]
r5_fit_y = [0.0, 12.68, 12.68]

panels = [
    ('Subject 1', e1_circ, e1_sq, e1_tri, e1_fit_x, e1_fit_y, 'Estimated Target Displacement (cm)'),
    ('Subject 3', e3_circ, e3_sq, e3_tri, e3_fit_x, e3_fit_y, 'Estimated Target Displacement (cm)'),
    ('Subject 5', e5_circ, e5_sq, e5_tri, e5_fit_x, e5_fit_y, 'Estimated Target Displacement (cm)'),
    ('Subject 1', r1_circ, r1_sq, r1_tri, r1_fit_x, r1_fit_y, 'Real Target Displacement (cm)'),
    ('Subject 3', r3_circ, r3_sq, r3_tri, r3_fit_x, r3_fit_y, 'Real Target Displacement (cm)'),
    ('Subject 5', r5_circ, r5_sq, r5_tri, r5_fit_x, r5_fit_y, 'Real Target Displacement (cm)'),
]

W, H = 3523, 3459
fig = plt.figure(figsize=(W / 300, H / 300), dpi=300)
fig.patch.set_facecolor('white')


def fx(px):
    return px / W


def fy(py):
    return 1 - py / H


def fmt(v, nd):
    return f'{v:.{nd}f}'.replace('-', '\u2212')


FS = 15

# ---- table ----
fig.text(fx(18), fy(34), 'Table 3', fontsize=FS, fontweight='bold', va='baseline')
fig.text(fx(250), fy(34), 'Parameters and $R^2$ in different models for determining submovement amplitude',
         fontsize=FS, va='baseline')

for y0, lw in [(77, 0.8), (338, 1.6), (788, 0.8)]:
    fig.add_artist(Line2D([fx(18), fx(3510)], [fy(y0), fy(y0)], color='black', lw=lw))
for x0, x1 in [(411, 1360), (1479, 2396), (2515, 3510)]:
    fig.add_artist(Line2D([fx(x0), fx(x1)], [fy(206), fy(206)], color='black', lw=0.8))

fig.text(fx(18), fy(162), 'Subject', fontsize=FS, va='baseline')
for gx, g in zip([411, 1483, 2515], groups):
    fig.text(fx(gx), fy(162), g, fontsize=FS, va='baseline')

head_x = [411, 652, 890, 1126, 1483, 1681, 1921, 2178, 2515, 2733, 2933, 3171]
for hx, h in zip(head_x, col_heads):
    fig.text(fx(hx), fy(290), h, fontsize=FS, va='baseline')

columns = [(tau_a1, 2), (tau_a2, 2), (tau_a3, 2), (tau_r2, 4),
           (pos_a1, 2), (pos_a2, 2), (pos_a3, 2), (pos_r2, 4),
           (avg_a1, 2), (avg_a2, 2), (avg_a3, 2), (avg_r2, 4)]
right_x = [589, 791, 1029, 1299, 1591, 1858, 2056, 2351, 2622, 2843, 3074, 3344]
row_y = [424, 489, 553, 619, 683, 747]
for i, s in enumerate(subjects):
    fig.text(fx(18), fy(row_y[i]), s, fontsize=FS, va='baseline')
    for (vals, nd), rx in zip(columns, right_x):
        fig.text(fx(rx), fy(row_y[i]), fmt(vals[i], nd), fontsize=FS, va='baseline', ha='right')

# ---- scatter panels ----
lefts = [283, 1383, 2487]
rows = [(1905, 958), (3197, 966)]
mk = dict(linestyle='none', markerfacecolor='none', markeredgecolor='black', markeredgewidth=1.0)

for k, (label, circ, sq, tri, fitx, fity, xlab) in enumerate(panels):
    r, c = divmod(k, 3)
    bot, h = rows[r]
    ax = fig.add_axes([fx(lefts[c]), fy(bot), 955 / W, h / H])
    ax.plot(*zip(*sq), marker='s', markersize=3.5, **mk)
    ax.plot(*zip(*circ), marker='o', markersize=4.3, **mk)
    ax.plot(*zip(*tri), marker='^', markersize=4.0, **mk)
    ax.plot(fitx, fity, color='black', lw=0.8)
    ax.set_xlim(0, 20)
    ax.set_ylim(0, 20)
    ax.set_xticks([0, 5, 10, 15])
    ax.set_yticks([0, 5, 10, 15])
    ax.tick_params(direction='out', length=7, width=0.8, labelsize=14)
    ax.tick_params(axis='x', pad=6)
    ax.tick_params(axis='y', pad=2)
    for sp in ax.spines.values():
        sp.set_linewidth(0.8)
    ax.text(1.9, 17.7, label, fontsize=FS, va='baseline')
    ax.set_xlabel(xlab, fontsize=FS, va='center')
    ax.xaxis.set_label_coords(0.5, -151 / h)
    if c == 0:
        ax.set_ylabel('Cumulative Amplitude (cm)', fontsize=FS, va='center')
        ax.yaxis.set_label_coords(-182 / 955, 0.5)

fig.text(fx(18), -0.0115, 'Fig. 9', fontsize=FS, fontweight='bold', va='baseline')
fig.text(fx(190), -0.0115, 'Top Relationship between cumulative movement amplitude and estimated target '
         'displacement for individual subjects. Top', fontsize=FS, va='baseline')

fig.savefig('out.png', dpi=300, facecolor='white')
